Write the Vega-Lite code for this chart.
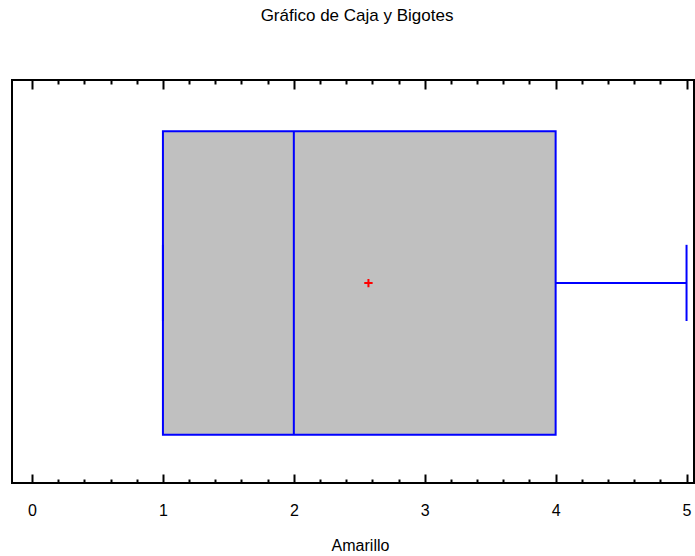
{
  "$schema": "https://vega.github.io/schema/vega-lite/v6.json",
  "autosize": "none",
  "padding": {"left": 12, "top": 80, "right": 1, "bottom": 73},
  "width": 682,
  "height": 403,
  "background": "white",
  "config": {
    "view": {"stroke": "black", "strokeWidth": 2},
    "font": "Liberation Sans"
  },
  "title": {
    "text": "Gráfico de Caja y Bigotes",
    "font": "Liberation Sans",
    "fontSize": 17,
    "fontWeight": "normal",
    "color": "black",
    "anchor": "middle",
    "offset": 54,
    "dx": 4
  },
  "datasets": {
    "box": [{"q1": 1, "q3": 4, "median": 2, "mean": 2.57, "min": 1, "max": 5}]
  },
  "data": {"name": "box"},
  "resolve": {"axis": {"x": "independent"}},
  "layer": [
    {
      "mark": {"type": "rect", "fill": "#c0c0c0", "stroke": "#0000ff", "strokeWidth": 2},
      "encoding": {
        "x": {
          "field": "q1", "type": "quantitative",
          "scale": {"domain": [-0.153, 5.057], "nice": false, "zero": false},
          "axis": {
            "orient": "bottom",
            "values": [0,0.2,0.4,0.6,0.8,1,1.2,1.4,1.6,1.8,2,2.2,2.4,2.6,2.8,3,3.2,3.4,3.6,3.8,4,4.2,4.4,4.6,4.8,5],
            "domain": false,
            "grid": false,
            "tickColor": "black",
            "tickSize": {"condition": {"test": "abs(datum.value - round(datum.value)) < 0.001", "value": -9}, "value": -4},
            "tickWidth": 2,
            "labelExpr": "abs(datum.value - round(datum.value)) < 0.001 ? format(datum.value, 'd') : ''",
            "labelFont": "Liberation Sans",
            "labelFontSize": 16,
            "labelColor": "black",
            "labelPadding": 28,
            "labelFlush": false,
            "labelOverlap": false,
            "title": "Amarillo",
            "titleFont": "Liberation Sans",
            "titleFontSize": 16,
            "titleFontWeight": "normal",
            "titleColor": "black",
            "titlePadding": 14,
            "titleX": 348
          }
        },
        "x2": {"field": "q3"},
        "y": {"datum": 0.12, "type": "quantitative", "scale": {"domain": [0, 1], "nice": false}, "axis": null},
        "y2": {"datum": 0.873}
      }
    },
    {
      "mark": {"type": "rule", "color": "#0000ff", "strokeWidth": 2},
      "encoding": {
        "x": {"field": "median", "type": "quantitative", "axis": null},
        "y": {"datum": 0.12, "type": "quantitative", "axis": null},
        "y2": {"datum": 0.873}
      }
    },
    {
      "mark": {"type": "rule", "color": "#0000ff", "strokeWidth": 2},
      "encoding": {
        "x": {"field": "q3", "type": "quantitative", "axis": null},
        "x2": {"field": "max"},
        "y": {"datum": 0.496, "type": "quantitative", "axis": null}
      }
    },
    {
      "mark": {"type": "rule", "color": "#0000ff", "strokeWidth": 2},
      "encoding": {
        "x": {"field": "min", "type": "quantitative", "axis": null},
        "y": {"datum": 0.402, "type": "quantitative", "axis": null},
        "y2": {"datum": 0.591}
      }
    },
    {
      "mark": {"type": "rule", "color": "#0000ff", "strokeWidth": 2},
      "encoding": {
        "x": {"field": "max", "type": "quantitative", "axis": null},
        "y": {"datum": 0.402, "type": "quantitative", "axis": null},
        "y2": {"datum": 0.591}
      }
    },
    {
      "mark": {"type": "point", "shape": "M-1,0H1M0,-1V1", "size": 70, "stroke": "#ff0000", "strokeWidth": 2, "filled": false, "opacity": 1},
      "encoding": {
        "x": {
          "field": "mean", "type": "quantitative",
          "axis": {
            "orient": "top",
            "values": [0,0.2,0.4,0.6,0.8,1,1.2,1.4,1.6,1.8,2,2.2,2.4,2.6,2.8,3,3.2,3.4,3.6,3.8,4,4.2,4.4,4.6,4.8,5],
            "domain": false,
            "grid": false,
            "labels": false,
            "title": null,
            "tickColor": "black",
            "tickSize": {"condition": {"test": "abs(datum.value - round(datum.value)) < 0.001", "value": -9}, "value": -4},
            "tickWidth": 2
          }
        },
        "y": {"datum": 0.496, "type": "quantitative", "axis": null}
      }
    }
  ]
}
